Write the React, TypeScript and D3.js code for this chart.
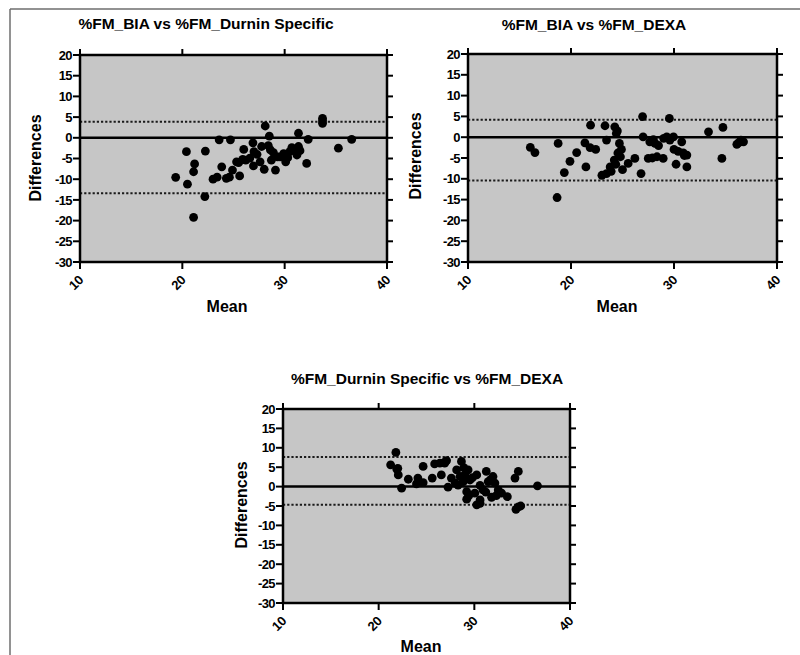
import * as d3 from "d3";

const yTicks = [20, 15, 10, 5, 0, -5, -10, -15, -20, -25, -30];
const xTicks = [10, 20, 30, 40];

// %FM_BIA vs %FM_Durnin Specific
const biaDurninMean = [
  20.4, 22.25, 21.2, 21.1, 19.35, 20.5, 22.2, 21.1, 23.6, 24.7, 23.0, 23.4, 23.85, 24.6,
  24.9, 25.3, 25.6, 26.0, 26.2, 26.9, 27.0, 26.95, 27.75, 28.1, 28.0, 28.5, 28.6, 28.7,
  29.1, 29.55, 30.1, 30.5, 30.85, 31.35, 31.35, 31.2, 32.15, 32.3, 33.7, 33.7, 35.25, 36.55,
  25.5, 25.9, 26.6, 27.3, 27.6, 28.4, 28.9, 29.3, 29.9, 30.3, 30.7, 31.5, 24.3, 33.7,
];
const biaDurninDiff = [
  -3.35, -3.2, -6.3, -8.2, -9.55, -11.2, -14.2, -19.2, -0.5, -0.5, -10.0, -9.5, -7.0, -9.5,
  -7.8, -5.8, -9.2, -2.8, -5.4, -1.2, -3.35, -6.8, -2.1, 2.85, -7.6, 0.4, -2.9, -5.4,
  -7.8, -4.6, -5.8, -3.35, -2.95, -2.1, 1.1, -4.15, -6.2, -0.4, 4.7, 3.5, -2.5, -0.4,
  -6.0, -5.2, -4.9, -4.0, -5.8, -1.9, -3.6, -4.6, -3.8, -4.8, -2.4, -3.1, -9.8, 4.1,
];
const biaDurninLimits = [3.9, -13.4];

// %FM_BIA vs %FM_DEXA
const biaDexaMean = [
  16.05, 16.5, 18.75, 18.65, 19.35, 19.9, 20.55, 21.35, 21.45, 21.9, 21.85, 22.4, 23.3,
  23.0, 23.45, 23.8, 24.2, 24.25, 24.4, 23.45, 24.7, 24.9, 24.8, 25.0, 25.55, 26.2, 26.8,
  26.95, 27.0, 27.5, 27.65, 28.15, 28.35, 28.95, 29.3, 29.55, 29.6, 29.95, 30.2, 30.0,
  30.75, 30.9, 31.25, 31.25, 33.35, 34.75, 34.65, 36.1, 36.5, 36.75,
  24.55, 24.35, 23.9, 28.0, 28.5, 29.0, 30.4, 31.0, 27.9, 24.5, 36.3,
];
const biaDexaDiff = [
  -2.45, -3.7, -1.5, -14.5, -8.5, -5.8, -3.7, -1.35, -7.15, 2.9, -2.5, -2.95, 2.75,
  -9.15, -8.75, -7.15, -5.5, 2.5, 0.9, -0.7, -1.5, -2.95, -4.7, -7.8, -6.3, -5.1, -8.75,
  4.95, 0.1, -5.1, -1.1, -1.5, -4.7, -5.1, 0.1, 4.5, -0.7, 0.1, -6.5, -2.95,
  -1.1, -3.75, -4.3, -7.15, 1.3, 2.35, -5.1, -1.7, -0.7, -1.1,
  -3.8, -6.5, -8.2, -0.6, -2.0, -0.3, -3.4, -4.4, -5.0, 1.5, -1.3,
];
const biaDexaLimits = [4.2, -10.4];

// %FM_Durnin Specific vs %FM_DEXA
const durninDexaMean = [
  21.8, 21.25, 21.9, 22.05, 22.4, 23.1, 23.95, 24.1, 24.65, 24.65, 25.6, 25.85, 26.55,
  26.4, 27.1, 27.25, 27.6, 28.15, 28.3, 28.65, 28.85, 29.2, 29.2, 29.35, 29.55, 30.05,
  30.25, 30.6, 30.6, 30.9, 31.25, 31.45, 31.8, 31.95, 32.15, 32.5, 32.85, 33.45, 34.25,
  34.6, 34.35, 34.85, 36.6, 29.0, 28.5, 26.9, 30.25,
  29.8, 30.6, 31.2, 31.7, 28.0, 28.9, 29.4, 32.3, 34.6, 26.9, 22.0,
];
const durninDexaDiff = [
  8.8, 5.6, 4.5, 3.0, -0.4, 1.9, 0.7, 2.2, 5.2, 1.0, 2.2, 5.85, 3.0,
  6.05, 6.7, -0.15, 2.2, 4.3, 0.4, 6.5, 1.3, -1.3, -3.25, 4.3, 1.7, -1.7,
  3.0, -3.45, -4.3, -0.85, 3.9, 1.3, -2.75, 2.6, 0.9, -0.85, -1.7, -2.6, 2.2,
  3.9, -5.85, -5.0, 0.2, 3.0, 2.6, 6.05, -4.7,
  2.3, 0.3, -1.4, 1.8, 0.9, 4.9, -2.4, -2.3, -5.2, 6.3, 4.7,
];
const durninDexaLimits = [7.6, -4.7];

const font = "'Liberation Sans', Arial, sans-serif";

type PanelProps = {
  title: string;
  means: number[];
  diffs: number[];
  limits: number[];
  left: number;
  right: number;
  top: number;
  bottom: number;
  titleX: number;
  titleY: number;
  yLabelX: number;
  yLabelY: number;
  meanX: number;
  meanY: number;
};

function Panel(p: PanelProps) {
  const x = d3.scaleLinear().domain([10, 40]).range([p.left, p.right]);
  const y = d3.scaleLinear().domain([-30, 20]).range([p.bottom, p.top]);
  const tick = 7;

  return (
    <g fontFamily={font} fontWeight="bold">
      <text x={p.titleX} y={p.titleY} textAnchor="middle" fontSize={15.5}>
        {p.title}
      </text>
      <rect
        x={p.left}
        y={p.top}
        width={p.right - p.left}
        height={p.bottom - p.top}
        fill="#c6c6c6"
      />
      {/* limits of agreement */}
      {p.limits.map((v, i) => (
        <line
          key={"lim" + i}
          x1={p.left}
          x2={p.right}
          y1={y(v)}
          y2={y(v)}
          stroke="#1a1a1a"
          strokeWidth={2}
          strokeDasharray="2.2,2"
        />
      ))}
      <line x1={p.left} x2={p.right} y1={y(0)} y2={y(0)} stroke="#000" strokeWidth={2.5} />
      {p.means.map((m, i) => (
        <circle key={"pt" + i} cx={x(m)} cy={y(p.diffs[i])} r={4.4} fill="#000" />
      ))}
      <rect
        x={p.left}
        y={p.top}
        width={p.right - p.left}
        height={p.bottom - p.top}
        fill="none"
        stroke="#000"
        strokeWidth={2.5}
      />
      {yTicks.map((t) => (
        <g key={"y" + t}>
          <line x1={p.left - tick} x2={p.left} y1={y(t)} y2={y(t)} stroke="#000" strokeWidth={2} />
          <line x1={p.right} x2={p.right + tick - 1} y1={y(t)} y2={y(t)} stroke="#000" strokeWidth={2} />
          <text
            x={p.left - tick - 1}
            y={y(t)}
            dy="0.36em"
            textAnchor="end"
            fontSize={13}
            letterSpacing={-0.6}
          >
            {t}
          </text>
        </g>
      ))}
      {xTicks.map((t) => (
        <g key={"x" + t}>
          <line x1={x(t)} x2={x(t)} y1={p.bottom} y2={p.bottom + tick} stroke="#000" strokeWidth={2} />
          <line x1={x(t)} x2={x(t)} y1={p.top - tick + 1} y2={p.top} stroke="#000" strokeWidth={2} />
          <text
            transform={`translate(${x(t) + 4},${p.bottom + 19}) rotate(-45)`}
            textAnchor="end"
            fontSize={13}
            letterSpacing={-0.4}
          >
            {t}
          </text>
        </g>
      ))}
      <text x={p.meanX} y={p.meanY} textAnchor="middle" fontSize={16}>
        Mean
      </text>
      <text
        transform={`translate(${p.yLabelX},${p.yLabelY}) rotate(-90)`}
        textAnchor="middle"
        fontSize={16}
      >
        Differences
      </text>
    </g>
  );
}

export default function App() {
  return (
    <svg
      width={800}
      height={655}
      style={{ position: "absolute", left: 0, top: 0, background: "#fff" }}
    >
      <line x1={10} x2={800} y1={9} y2={9} stroke="#6e6e6e" strokeWidth={1.5} />
      <line x1={10} x2={10} y1={9} y2={655} stroke="#6e6e6e" strokeWidth={1.5} />
      <Panel
        title="%FM_BIA vs %FM_Durnin Specific"
        means={biaDurninMean}
        diffs={biaDurninDiff}
        limits={biaDurninLimits}
        left={80}
        right={387}
        top={55}
        bottom={262}
        titleX={206}
        titleY={29}
        yLabelX={41}
        yLabelY={158}
        meanX={227}
        meanY={312}
      />
      <Panel
        title="%FM_BIA vs %FM_DEXA"
        means={biaDexaMean}
        diffs={biaDexaDiff}
        limits={biaDexaLimits}
        left={468}
        right={777}
        top={54}
        bottom={262}
        titleX={594}
        titleY={30}
        yLabelX={421}
        yLabelY={156}
        meanX={617}
        meanY={312}
      />
      <Panel
        title="%FM_Durnin Specific vs %FM_DEXA"
        means={durninDexaMean}
        diffs={durninDexaDiff}
        limits={durninDexaLimits}
        left={283}
        right={570}
        top={409}
        bottom={603}
        titleX={427}
        titleY={384}
        yLabelX={247}
        yLabelY={505}
        meanX={421}
        meanY={652}
      />
    </svg>
  );
}
